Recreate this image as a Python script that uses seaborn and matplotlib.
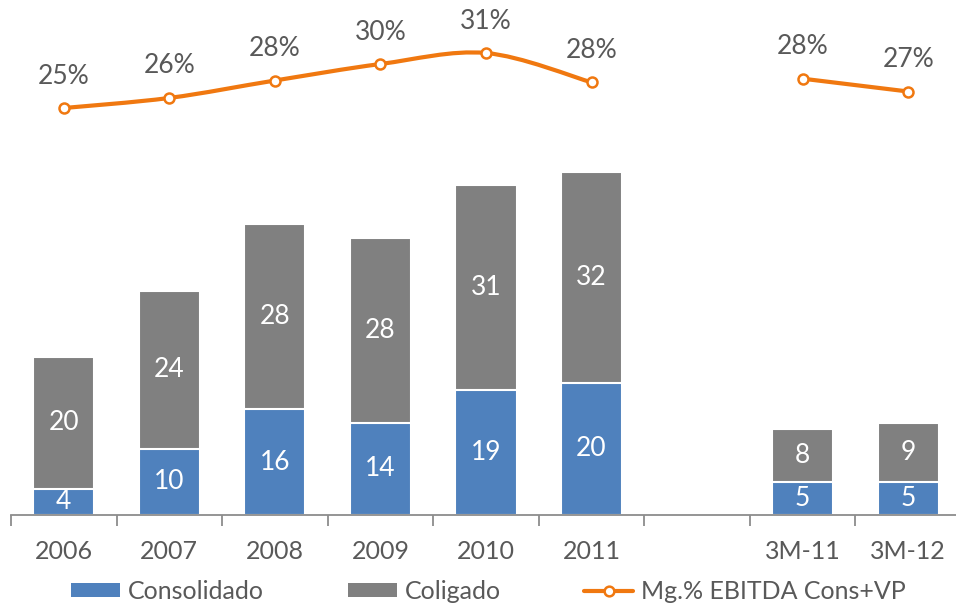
import numpy as np
import pandas as pd
import matplotlib
matplotlib.use("Agg")
import matplotlib.pyplot as plt
import seaborn as sns
from matplotlib.path import Path
from matplotlib.patches import PathPatch, Patch
from matplotlib.lines import Line2D

categories = ["2006", "2007", "2008", "2009", "2010", "2011", " ", "3M-11", "3M-12"]
consolidado = [4, 10, 16, 14, 19, 20, np.nan, 5, 5]
coligado = [20, 24, 28, 28, 31, 32, np.nan, 8, 9]
margin = [24.7, 25.8, 27.7, 29.5, 30.7, 27.5, np.nan, 27.9, 26.5]
legend_labels = ["Consolidado", "Coligado", "Mg.% EBITDA Cons+VP"]

BLUE = "#4F81BD"
GRAY = "#808080"
ORANGE = "#F07810"
TXT = "#595959"
AXC = "#8C8C8C"

sns.set_theme(style="white")
plt.rcParams['font.family'] = ['Lato', 'DejaVu Sans']

fig = plt.figure(figsize=(9.56, 6.07), dpi=100)
ax = fig.add_axes([11 / 956, 1 - 515 / 607, 950 / 956, 515 / 607])

df = pd.DataFrame({"cat": categories, "cons": consolidado, "col": coligado})
df["total"] = df["cons"] + df["col"]

sns.barplot(data=df, x="cat", y="total", order=categories, color=GRAY,
            saturation=1, width=0.58, edgecolor="white", linewidth=1.5,
            errorbar=None, ax=ax)
sns.barplot(data=df, x="cat", y="cons", order=categories, color=BLUE,
            saturation=1, width=0.58, edgecolor="white", linewidth=1.5,
            errorbar=None, ax=ax)

for i, (c, g) in enumerate(zip(consolidado, coligado)):
    if np.isnan(c):
        continue
    ax.text(i, c / 2, f"{c:.0f}", ha="center", va="center", color="white", fontsize=19)
    ax.text(i, c + g / 2, f"{g:.0f}", ha="center", va="center", color="white", fontsize=19)

ax.set_xlim(-0.5, 8.5)
ax.set_ylim(0, 78)
ax.set_yticks([])
ax.set_xlabel("")
ax.set_ylabel("")
for s in ["top", "right", "left"]:
    ax.spines[s].set_visible(False)
ax.spines["bottom"].set_color(AXC)
ax.spines["bottom"].set_linewidth(1.3)
ax.set_xticks(np.arange(-0.5, 9, 1), minor=True)
ax.tick_params(axis="x", which="major", length=0, pad=18, labelsize=18, labelcolor=TXT)
ax.tick_params(axis="x", which="minor", length=8, width=1.3, color=AXC, direction="out", bottom=True)

# secondary axis for margin line
ax2 = ax.twinx()
ax2.set_ylim(-19.68, 36.48)
ax2.set_axis_off()

xs = np.arange(len(categories), dtype=float)
m = np.array(margin, dtype=float)
segments = []
cur = []
for x, y in zip(xs, m):
    if np.isnan(y):
        if cur:
            segments.append(cur)
        cur = []
    else:
        cur.append((x, y))
if cur:
    segments.append(cur)

for seg in segments:
    P = np.array(seg)
    n = len(P)
    verts = [tuple(P[0])]
    codes = [Path.MOVETO]
    for k in range(n - 1):
        p0 = P[k - 1] if k > 0 else P[k]
        p1 = P[k]
        p2 = P[k + 1]
        p3 = P[k + 2] if k + 2 < n else P[k + 1]
        c1 = p1 + (p2 - p0) / 6.0
        c2 = p2 - (p3 - p1) / 6.0
        verts += [tuple(c1), tuple(c2), tuple(p2)]
        codes += [Path.CURVE4, Path.CURVE4, Path.CURVE4]
    ax2.add_patch(PathPatch(Path(verts, codes), facecolor="none", edgecolor=ORANGE,
                            lw=3, capstyle="round", joinstyle="round"))

ax2.plot(xs, m, linestyle="none", marker="o", ms=7.2, mfc="white", mec=ORANGE, mew=1.8)
for x, y in zip(xs, m):
    if np.isnan(y):
        continue
    ax2.annotate(f"{int(y + 0.5)}%", (x, y), xytext=(0, 23), textcoords="offset points",
                 ha="center", va="center", fontsize=19, color=TXT)

handles = [Patch(facecolor=BLUE, edgecolor="none"),
           Patch(facecolor=GRAY, edgecolor="none"),
           Line2D([], [], color=ORANGE, lw=3, marker="o", ms=7, mfc="white", mec=ORANGE, mew=1.8)]
fig.legend(handles, legend_labels, loc="center", bbox_to_anchor=(0.511, 0.025), ncol=3,
           frameon=False, fontsize=18, handlelength=1.96, handleheight=0.48,
           handletextpad=0.32, columnspacing=3.35, labelcolor=TXT)

fig.savefig("out.png", dpi=100)
